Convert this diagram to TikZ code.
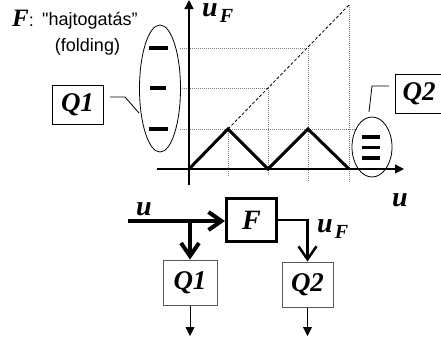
\documentclass[tikz,border=0pt]{standalone}
\usepackage{fontspec}
\setmainfont{Liberation Serif}
\newfontfamily\arial{Liberation Sans}
\usetikzlibrary{arrows.meta,shapes.geometric}
\newcommand{\bi}[1]{\textbf{\textit{#1}}}
\newcommand{\uF}{\bi{u}\hspace{2pt}\raisebox{-6pt}{\fontsize{20}{20}\selectfont\bi{F}}}
\begin{document}
\begin{tikzpicture}[x=1pt,y=-1pt,
  lbl/.style={font=\fontsize{28}{28}\selectfont},
  qtag/.style={draw, line width=0.8pt, minimum width=51pt, minimum height=39pt, inner sep=0pt, font=\fontsize{27}{27}\selectfont},
  qblock/.style={draw=black!65, line width=1pt, minimum width=54pt, minimum height=45pt, inner sep=0pt, font=\fontsize{27}{27}\selectfont},
  guide/.style={gray, line width=0.8pt, dash pattern=on 1pt off 1pt},
  zigzag/.style={line width=3pt, line join=miter},
  bar/.style={line width=3.5pt},
  openarrow/.style={-{Straight Barb[length=13pt,width=18pt]}},
  outarrow/.style={-{Triangle[length=9pt,width=9pt]}, line width=0.8pt},
  axis/.style={line width=1.3pt, -{Triangle[length=9pt,width=9pt]}},
]
\useasboundingbox (0,0) rectangle (441,343);

% ---------- graph ----------
\coordinate (O) at (189,169);
\coordinate (P1) at (228,129);
\coordinate (Z1) at (268,169);
\coordinate (P2) at (308,129);
\coordinate (Z2) at (349,169);
\coordinate (T) at (349,5);
\coordinate (M1) at (268,88);
\coordinate (M2) at (308,48);

% guides
\draw[guide] (180,48) -- (M2);
\draw[guide] (180,88) -- (M1);
\draw[guide] (180,129) -- (357,129);
\draw[guide] (P1) -- (228,176);
\draw[guide] (M1) -- (268,176);
\draw[guide] (M2) -- (308,182);
\draw[guide] (T) -- (349,182);
\draw[line width=0.8pt, dash pattern=on 3pt off 2pt] (P1) -- (T);

% axes
\coordinate (yb) at (189,185);
\coordinate (yt) at (189,0);
\coordinate (xl) at (157,169);
\coordinate (xr) at (404,169);
\draw[axis] (yb) -- (yt);
\draw[axis] (xl) -- (xr);

\draw[zigzag] (O) -- (P1) -- (Z1) -- (P2) -- (Z2);

\node[anchor=base west, lbl, inner sep=0pt, text height=12pt] (uFtop) at (202,16.5) {\uF};
\node[anchor=base west, lbl, inner sep=0pt] (uright) at (392,206) {\bi{u}};

% left ellipse with levels
\node[draw, ellipse, line width=0.8pt, minimum width=41pt, minimum height=127pt, inner sep=0pt] (e1) at (160,88.5) {};
\draw[bar] (149,48) -- (168,48);
\draw[bar] (150,88) -- (166,88);
\draw[bar] (149,129) -- (168,129);

\node[qtag] (q1t) at (77.5,104.5) {\bi{Q1}};
\coordinate (l1a) at (110,97);
\coordinate (l1b) at (125,97);
\coordinate (l1c) at (139,113);
\draw[line width=0.8pt] (l1a) -- (l1b) -- (l1c);

% right ellipse
\node[draw, ellipse, line width=0.8pt, minimum width=40pt, minimum height=60pt, inner sep=0pt] (e2) at (372,147) {};
\draw[bar] (362,137) -- (380,137);
\draw[bar] (362,147.5) -- (380,147.5);
\draw[bar] (362,158) -- (380,158);

\node[qtag, minimum width=48pt] (q2t) at (419,94) {\bi{Q2}};
\coordinate (l2a) at (369,112);
\coordinate (l2b) at (372,86);
\coordinate (l2c) at (389,86);
\draw[line width=0.8pt] (l2a) -- (l2b) -- (l2c);

% title
\node[anchor=base west, inner sep=0pt] (titleF) at (12,26)
  {\fontsize{25}{25}\selectfont\bi{F}\arial\fontsize{18}{18}\selectfont:};
\node[anchor=base west, inner sep=0pt, font=\arial\fontsize{18}{18}\selectfont] (title) at (42,25) {"hajtogatás”};
\node[anchor=base, inner sep=0pt, font=\arial\fontsize{18}{18}\selectfont] (fold) at (87.5,51) {(folding)};

% ---------- block diagram ----------
\node[draw, line width=3pt, minimum width=50pt, minimum height=43pt, inner sep=0pt, font=\fontsize{28}{28}\selectfont] (F) at (251.5,220) {\bi{F}};
\node[qblock] (Q1) at (190,282.5) {\bi{Q1}};
\node[qblock, minimum width=51pt] (Q2) at (307.5,284.5) {\bi{Q2}};

\coordinate (in) at (128,221);
\coordinate (br) at (190,221);
\draw[line width=4pt, openarrow] (in) -- (F.west |- in);
\draw[line width=4pt, openarrow] (br) -- (Q1.north);
\draw[line width=2.5pt, openarrow] (F.east) -| (Q2.north);
\node[anchor=base west, lbl, inner sep=0pt] (uin) at (136,215) {\bi{u}};
\node[anchor=base west, lbl, inner sep=0pt] (uFb) at (317,232) {\uF};

\coordinate (o1) at (190,336);
\coordinate (o2) at (307.5,336);
\draw[outarrow] (Q1.south) -- (o1);
\draw[outarrow] (Q2.south) -- (o2);
\end{tikzpicture}
\end{document}
